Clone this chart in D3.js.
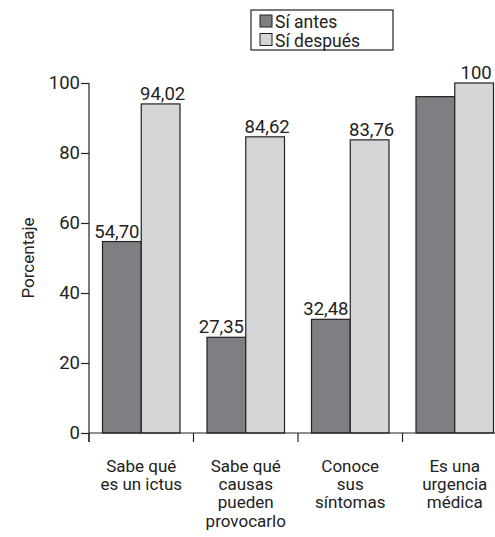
<!DOCTYPE html>
<html>
<head>
<meta charset="utf-8">
<script src="https://cdn.jsdelivr.net/npm/d3@7"></script>
<style>
  html, body { margin: 0; padding: 0; background: #fff; }
  svg text { font-family: Roboto, "Liberation Sans", sans-serif; fill: #222; }
</style>
</head>
<body>
<svg id="chart" width="495" height="537"></svg>
<script>
// categories and series
const categories = [
    ["Sabe qué", "es un ictus"],
    ["Sabe qué", "causas", "pueden", "provocarlo"],
    ["Conoce", "sus", "síntomas"],
    ["Es una", "urgencia", "médica"],
];
const seriesNames = ["Sí antes", "Sí después"];
const antes = [54.70, 27.35, 32.48, 96.1];
const despues = [94.02, 84.62, 83.76, 100];
const antesLabels = ["54,70", "27,35", "32,48", null];
const despuesLabels = ["94,02", "84,62", "83,76", "100"];
const yTicks = [0, 20, 40, 60, 80, 100];

const colors = { "Sí antes": "#7f7f83", "Sí después": "#d4d5d7" };

const svg = d3.select('#chart');
const catIds = categories.map((c, i) => i);

const x = d3.scaleBand()
    .domain(catIds)
    .range([89, 507]);

const xs = d3.scaleBand()
    .domain(seriesNames)
    .range([13.5, x.bandwidth() - 13.5]);

const y = d3.scaleLinear()
    .domain([0, 100])
    .range([433, 83]);

// bars
const rows = catIds.map(i => ({
    cat: i,
    values: [
        { s: "Sí antes", v: antes[i], label: antesLabels[i] },
        { s: "Sí después", v: despues[i], label: despuesLabels[i] },
    ],
}));

const groups = svg.append('g')
    .selectAll('g')
    .data(rows)
    .join('g')
    .attr('transform', d => `translate(${x(d.cat)},0)`);

groups.selectAll('rect')
    .data(d => d.values)
    .join('rect')
    .attr('x', d => xs(d.s))
    .attr('y', d => y(d.v))
    .attr('width', xs.bandwidth())
    .attr('height', d => y(0) - y(d.v))
    .attr('fill', d => colors[d.s])
    .attr('stroke', '#222')
    .attr('stroke-width', 1.2);

groups.selectAll('text.val')
    .data(d => d.values.filter(v => v.label))
    .join('text')
    .attr('class', 'val')
    .attr('x', d => xs(d.s) + xs.bandwidth() / 2 + (d.s === "Sí antes" ? -5 : 2))
    .attr('y', d => y(d.v) - 4)
    .attr('text-anchor', 'middle')
    .attr('font-size', 18.5)
    .text(d => d.label);

// y axis
const yAxis = d3.axisLeft(y)
    .tickValues(yTicks)
    .tickSize(8)
    .tickPadding(1)
    .tickFormat(d3.format('d'));

const gy = svg.append('g')
    .attr('transform', 'translate(89,0)')
    .call(yAxis);
gy.select('.domain').remove();
gy.append('line')
    .attr('x1', 0).attr('x2', 0)
    .attr('y1', y(100)).attr('y2', 442)
    .attr('stroke', '#222').attr('stroke-width', 1.2);
gy.selectAll('.tick line').attr('stroke', '#222').attr('stroke-width', 1.2);
gy.selectAll('.tick text')
    .attr('font-size', 18.5)
    .attr('font-family', null)
    .attr('fill', '#222');

// x axis
svg.append('line')
    .attr('x1', 89).attr('x2', 495)
    .attr('y1', y(0)).attr('y2', y(0))
    .attr('stroke', '#222').attr('stroke-width', 1.2);

svg.append('g')
    .selectAll('line')
    .data(catIds)
    .join('line')
    .attr('x1', d => x(d)).attr('x2', d => x(d))
    .attr('y1', y(0)).attr('y2', 442)
    .attr('stroke', '#222').attr('stroke-width', 1.2);

const xl = svg.append('g')
    .selectAll('text')
    .data(catIds)
    .join('text')
    .attr('x', d => x(d) + x.bandwidth() / 2)
    .attr('y', 472)
    .attr('text-anchor', 'middle')
    .attr('font-size', 17);

xl.selectAll('tspan')
    .data(d => categories[d].map((t, j) => ({ t, j })))
    .join('tspan')
    .attr('x', function () { return d3.select(this.parentNode).attr('x'); })
    .attr('dy', d => d.j === 0 ? 0 : 18.2)
    .text(d => d.t);

// y title
svg.append('text')
    .attr('transform', `translate(34,${(y(0) + y(100)) / 2}) rotate(-90)`)
    .attr('text-anchor', 'middle')
    .attr('font-size', 17)
    .text('Porcentaje');

// legend
const legend = svg.append('g').attr('transform', 'translate(251,10)');
legend.append('rect')
    .attr('width', 142).attr('height', 40)
    .attr('fill', '#fff')
    .attr('stroke', '#222').attr('stroke-width', 1.2);

const li = legend.selectAll('g')
    .data(seriesNames)
    .join('g')
    .attr('transform', (d, i) => `translate(9,${3 + i * 18.5})`);
li.append('rect')
    .attr('width', 12).attr('height', 12)
    .attr('y', 2)
    .attr('fill', d => colors[d])
    .attr('stroke', '#222').attr('stroke-width', 1);
li.append('text')
    .attr('x', 15)
    .attr('y', 15)
    .attr('font-size', 17.5)
    .text(d => d);
</script>
</body>
</html>
